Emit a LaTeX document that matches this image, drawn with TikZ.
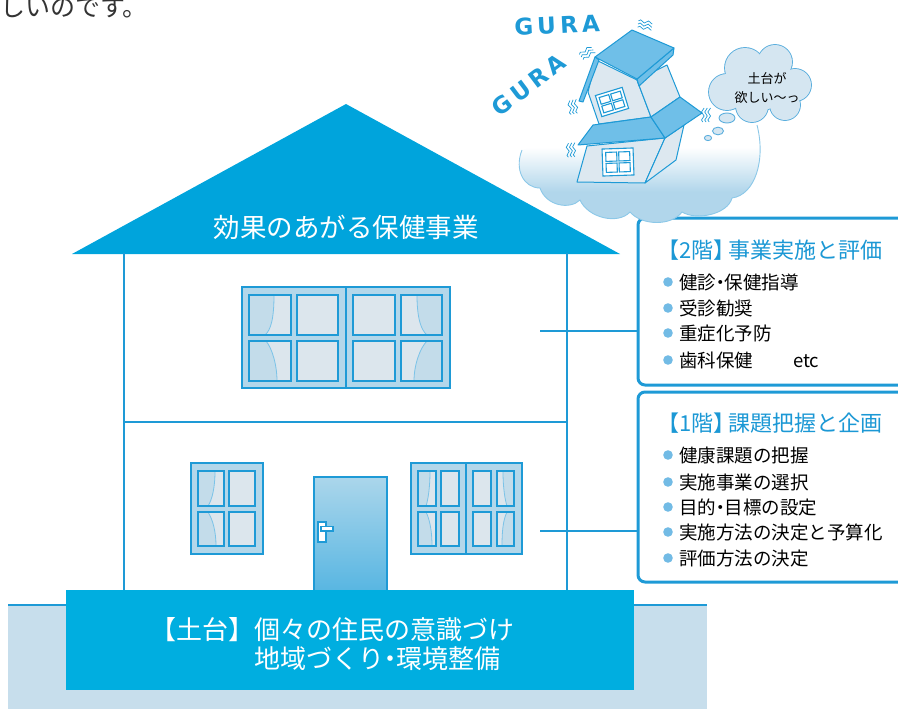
\documentclass[tikz,border=0pt]{standalone}
\usepackage{fontspec}
\newfontfamily\jp{Noto Sans CJK JP}
\newfontfamily\gurafont{DejaVu Sans}[LetterSpace=18]
\usetikzlibrary{calc}

\definecolor{roofblue}{HTML}{00A4DC}
\definecolor{basecyan}{HTML}{00AEE0}
\definecolor{lineblue}{HTML}{1E9AD6}
\definecolor{groundblue}{HTML}{C7DEEC}
\definecolor{framefill}{HTML}{B3D7EA}
\definecolor{panefill}{HTML}{DCE6ED}
\definecolor{curtain}{HTML}{C3DCEA}
\definecolor{curtainline}{HTML}{7BC3E8}
\definecolor{bulletblue}{HTML}{72BBE5}
\definecolor{titleblue}{HTML}{1B98D5}
\definecolor{cloudblue}{HTML}{B1D6EB}
\definecolor{cloudline}{HTML}{8CC8E8}
\definecolor{bubblefill}{HTML}{D5E6F1}
\definecolor{bubbleline}{HTML}{5AAEDD}
\definecolor{doortop}{HTML}{ABD6EB}
\definecolor{doorbottom}{HTML}{58B6E2}
\definecolor{tiltroof}{HTML}{6FBFE8}
\definecolor{tiltwall}{HTML}{DDE8F0}
\definecolor{inktext}{HTML}{333333}

\pgfdeclareverticalshading{cloudshade}{100bp}{color(0bp)=(cloudblue); color(42bp)=(cloudblue); color(64bp)=(white); color(100bp)=(white)}

% a narrow middle dot
\newcommand\ndot{\kern-.27em・\kern-.27em}

\tikzset{
  wall/.style={draw=lineblue, line width=2pt},
  frame/.style={fill=framefill, draw=lineblue, line width=1.3pt},
  paneline/.style={draw=lineblue, line width=1.3pt},
  curtainedge/.style={draw=curtainline, line width=0.8pt},
  infobox/.style={draw=lineblue, line width=3pt, rounded corners=7pt, fill=white, inner sep=0pt},
  boxtitle/.style={anchor=base west, inner sep=0pt, text=titleblue, font=\jp\fontsize{22}{26}\selectfont},
  item/.style={anchor=base west, inner sep=0pt, text=black, font=\jp\fontsize{18.5}{22}\selectfont},
  basetext/.style={anchor=base west, inner sep=0pt, text=white, font=\jp\fontsize{26}{30}\selectfont},
  dot/.style={fill=bulletblue},
  tiltroofs/.style={fill=tiltroof, draw=lineblue, line width=1pt, line join=round},
  tiltwalls/.style={fill=tiltwall, draw=lineblue, line width=1pt, line join=round},
  tiltpane/.style={fill=white, draw=lineblue, line width=1.1pt},
  wiggleline/.style={draw=lineblue, line width=0.7pt},
  wiggle/.pic={
    \foreach \d in {-3.2,0,3.2}{
      \draw[wiggleline] (-7,\d) sin ({-5},{\d-1.3}) cos ({-3},\d) sin ({-1},{\d+1.3}) cos (1,\d) sin (3,{\d-1.3}) cos (5,\d) sin (7,{\d+1.3});
    }
  }
}

\begin{document}
\begin{tikzpicture}[x=1pt,y=-1pt]
\useasboundingbox (0,0) rectangle (898,709);

% closing words of the previous paragraph
\node[anchor=base west, inner sep=0pt, text=inktext, font=\jp\fontsize{25}{29}\selectfont] (lead) at (0,17) {しいのです。};

% ground
\fill[groundblue] (8,605) rectangle (707,712);
\draw[lineblue, line width=1.5pt] (8,605) -- (707,605);

% roof
\fill[roofblue] (346,104) -- (620,254) -- (72,254) -- cycle;
\node[anchor=base, inner sep=0pt, text=white, font=\jp\fontsize{26.5}{30}\selectfont] (rooflabel) at (346,237.5) {効果のあがる保健事業};

% walls and floor line
\draw[wall] (124,253) -- (124,591) (567,253) -- (567,591) (124,422) -- (567,422);

% ---- upper window ----
\draw[frame] (242,287) rectangle (450,388);
\draw[paneline] (346,287) -- (346,388);
\foreach \xa/\xb in {249/291,297/338,353/395,401/442}
  \foreach \ya/\yb in {295/335,341/381}
    \fill[panefill] (\xa,\ya) rectangle (\xb,\yb);
\fill[curtain] (249,295) -- (274,295) .. controls (274,318) and (271,330) .. (265,335) -- (249,335) -- cycle;
\draw[curtainedge] (274,295) .. controls (274,318) and (271,330) .. (265,335);
\fill[curtain] (249,341) -- (266,341) .. controls (272,348) and (277,365) .. (277,381) -- (249,381) -- cycle;
\draw[curtainedge] (266,341) .. controls (272,348) and (277,365) .. (277,381);
\fill[curtain] (442,295) -- (417,295) .. controls (417,318) and (421,330) .. (427,335) -- (442,335) -- cycle;
\draw[curtainedge] (417,295) .. controls (417,318) and (421,330) .. (427,335);
\fill[curtain] (442,341) -- (427,341) .. controls (420,348) and (414,365) .. (414,381) -- (442,381) -- cycle;
\draw[curtainedge] (427,341) .. controls (420,348) and (414,365) .. (414,381);
\foreach \xa/\xb in {249/291,297/338,353/395,401/442}
  \foreach \ya/\yb in {295/335,341/381}
    \draw[paneline] (\xa,\ya) rectangle (\xb,\yb);

% ---- lower left window ----
\draw[frame] (191,463) rectangle (263,554);
\foreach \xa/\xb in {198/224,229/255}
  \foreach \ya/\yb in {471/506,512/546}
    \fill[panefill] (\xa,\ya) rectangle (\xb,\yb);
\fill[curtain] (198,471) -- (215,471) .. controls (215,488) and (212,500) .. (208,506) -- (198,506) -- cycle;
\draw[curtainedge] (215,471) .. controls (215,488) and (212,500) .. (208,506);
\fill[curtain] (198,512) -- (208,512) .. controls (213,520) and (216,532) .. (216,546) -- (198,546) -- cycle;
\draw[curtainedge] (208,512) .. controls (213,520) and (216,532) .. (216,546);
\foreach \xa/\xb in {198/224,229/255}
  \foreach \ya/\yb in {471/506,512/546}
    \draw[paneline] (\xa,\ya) rectangle (\xb,\yb);

% ---- lower right window ----
\draw[frame] (411,463) rectangle (522,554);
\draw[paneline] (466,463) -- (466,554);
\foreach \xa/\xb in {418/436,441/459,473/491,497/514}
  \foreach \ya/\yb in {471/506,512/546}
    \fill[panefill] (\xa,\ya) rectangle (\xb,\yb);
\fill[curtain] (418,471) -- (430,471) .. controls (430,488) and (428,500) .. (426,506) -- (418,506) -- cycle;
\draw[curtainedge] (430,471) .. controls (430,488) and (428,500) .. (426,506);
\fill[curtain] (418,512) -- (426,512) .. controls (430,520) and (432,532) .. (432,546) -- (418,546) -- cycle;
\draw[curtainedge] (426,512) .. controls (430,520) and (432,532) .. (432,546);
\fill[curtain] (514,471) -- (503,471) .. controls (503,488) and (505,500) .. (507,506) -- (514,506) -- cycle;
\draw[curtainedge] (503,471) .. controls (503,488) and (505,500) .. (507,506);
\fill[curtain] (514,512) -- (507,512) .. controls (503,520) and (502,532) .. (502,546) -- (514,546) -- cycle;
\draw[curtainedge] (507,512) .. controls (503,520) and (502,532) .. (502,546);
\foreach \xa/\xb in {418/436,441/459,473/491,497/514}
  \foreach \ya/\yb in {471/506,512/546}
    \draw[paneline] (\xa,\ya) rectangle (\xb,\yb);

% ---- door ----
\shade[top color=doortop, bottom color=doorbottom] (314,477) rectangle (387,591);
\draw[lineblue, line width=1.5pt] (314,591) -- (314,477) -- (387,477) -- (387,591);
\filldraw[fill=white, draw=lineblue, line width=1.2pt] (318,522) rectangle (326,542);
\filldraw[fill=white, draw=lineblue, line width=1.2pt] (321,526.5) rectangle (333,531);

% ---- foundation ----
\fill[basecyan] (66,590) rectangle (634,690);
\node[basetext] (base1) at (150,639.3) {【土台】個々の住民の意識づけ};
\node[basetext] (base2) at (254,668.3) {地域づくり\ndot 環境整備};

% ---- floor boxes ----
\node[infobox, minimum width=272pt, minimum height=167pt] (box2) at (774,301.5) {};
\node[infobox, minimum width=272pt, minimum height=190pt] (box1) at (774,487) {};
\coordinate (c2) at (540,331);
\coordinate (c1) at (540,531);
\draw[wall] (c2) -- (c2 -| box2.west);
\draw[wall] (c1) -- (c1 -| box1.west);

\node[boxtitle] (t2) at (668,258.4) {\kern-.5em【2階】\kern-.3em 事業実施と評価};
\foreach \y/\txt [count=\i] in {282/健診\ndot 保健指導, 308/受診勧奨, 333/重症化予防, 360/歯科保健}{
  \fill[dot] (668,\y) circle (4.8);
  \node[item] (b2item\i) at (679,\y+7) {\txt};
}
\node[item] (etc) at (793,367) {etc};

\node[boxtitle] (t1) at (668,431.4) {\kern-.5em【1階】\kern-.3em 課題把握と企画};
\foreach \y/\txt [count=\i] in {455/健康課題の把握, 482/実施事業の選択, 507/目的\ndot 目標の設定, 532/実施方法の決定と予算化, 558/評価方法の決定}{
  \fill[dot] (668,\y) circle (4.8);
  \node[item] (b1item\i) at (679,\y+7) {\txt};
}

% ---- cloud under the wobbly house ----
\path[shading=cloudshade] (522,150) .. controls (514,170) and (524,188) .. (540,188)
  .. controls (546,206) and (570,210) .. (580,200)
  .. controls (588,218) and (618,225) .. (630,212)
  .. controls (642,226) and (672,226) .. (682,212)
  .. controls (697,221) and (728,214) .. (732,198)
  .. controls (755,195) and (766,160) .. (757,125)
  .. controls (700,128) and (560,135) .. cycle;
\draw[cloudline, line width=0.9pt] (522,150) .. controls (514,170) and (524,188) .. (540,188)
  .. controls (546,206) and (570,210) .. (580,200)
  .. controls (588,218) and (618,225) .. (630,212)
  .. controls (642,226) and (672,226) .. (682,212)
  .. controls (697,221) and (728,214) .. (732,198)
  .. controls (755,195) and (766,160) .. (757,125);

% ---- wobbly house ----
% lower storey
\draw[tiltwalls] (587,146) -- (665,138) -- (645,183) -- (577,182) -- cycle;
\draw[tiltwalls] (665,138) -- (684,125) -- (676,160) -- (645,183) -- cycle;
\begin{scope}[rotate around={2:(618,162)}]
  \draw[tiltpane] (602.5,148.5) rectangle (633.5,175.5);
  \foreach \xa/\xb in {606/617,619/630}
    \foreach \ya/\yb in {152/161,163/172}
      \draw[tiltpane] (\xa,\ya) rectangle (\xb,\yb);
\end{scope}
% upper storey
\draw[tiltwalls] (596,60) -- (637,80) -- (651,117) -- (599,124) -- (588,92) -- cycle;
\draw[tiltwalls] (637,80) -- (667,65) -- (680,97) -- (651,117) -- cycle;
\begin{scope}[rotate around={17:(612,102)}]
  \draw[tiltpane] (598,91) rectangle (626,113);
  \foreach \xa/\xb in {601/611,613/623}
    \foreach \ya/\yb in {94/101,103/110}
      \draw[tiltpane] (\xa,\ya) rectangle (\xb,\yb);
\end{scope}
% roofs
\draw[tiltroofs] (578,145) -- (593,125) -- (651,117) -- (665,138) -- cycle;
\draw[tiltroofs] (651,117) -- (680,97) -- (702,113) -- (665,138) -- cycle;
\draw[tiltroofs] (637,79) -- (674,48) -- (673,55) -- (639,86) -- cycle;
\draw[tiltroofs] (595,57) -- (632,30) -- (674,48) -- (637,79) -- cycle;
\draw[tiltroofs] (595,57) -- (599,60) -- (583,102) -- (579,101) -- cycle;

% shaking marks
\pic[rotate=-8] at (645,25) {wiggle};
\pic[rotate=35] at (587,53) {wiggle};
\pic[rotate=100] at (573,107) {wiggle};
\pic[rotate=95] at (571,150) {wiggle};
\pic[rotate=90] at (706,115) {wiggle};

\node[inner sep=0pt, text=lineblue, font=\gurafont\bfseries\fontsize{23}{26}\selectfont, rotate=3] (gura1) at (557,25) {GURA};
\node[inner sep=0pt, text=lineblue, font=\gurafont\bfseries\fontsize{23}{26}\selectfont, rotate=37] (gura2) at (529,85) {GURA};

% ---- thought bubble ----
\foreach \cx/\cy/\r in {745/68/20, 775/62/17, 795/85/16, 785/105/15, 752/106/16, 727/92/18, 762/88/22}
  \draw[bubbleline, line width=1.8pt] (\cx,\cy) circle (\r);
\foreach \cx/\cy/\r in {745/68/20, 775/62/17, 795/85/16, 785/105/15, 752/106/16, 727/92/18, 762/88/22}
  \fill[bubblefill] (\cx,\cy) circle (\r);
\filldraw[fill=bubblefill, draw=bubbleline, line width=0.9pt] (727,118) ellipse [x radius=8, y radius=5];
\filldraw[fill=bubblefill, draw=bubbleline, line width=0.9pt] (718,131) ellipse [x radius=5.5, y radius=3.8];
\filldraw[fill=bubblefill, draw=bubbleline, line width=0.9pt] (708,138) ellipse [x radius=3.6, y radius=2.6];
\node[align=center, inner sep=0pt, text=black, font=\jp\fontsize{13}{19}\selectfont] (wish) at (767,88) {土台が\\欲しい〜っ};

\end{tikzpicture}
\end{document}
